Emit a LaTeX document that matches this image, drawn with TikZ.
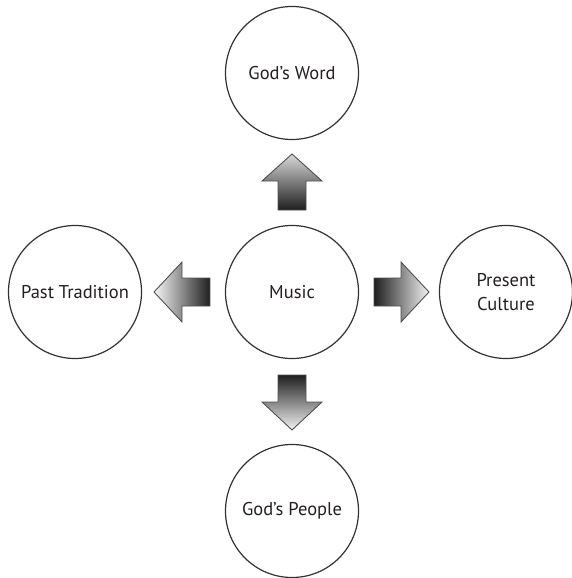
\documentclass[tikz,border=0pt]{standalone}
\usepackage{fontspec}
\setmainfont{PT Sans}
\definecolor{txt}{HTML}{231F20}
\definecolor{ring}{HTML}{333333}
\definecolor{edge}{HTML}{505050}
\begin{document}
\begin{tikzpicture}[x=1pt,y=-1pt,
  circ/.style={circle,draw=ring,line width=1.2pt,minimum size=133pt,inner sep=0pt,
    text=txt,font=\fontsize{18.5}{24}\selectfont,align=center},
  arr/.style={draw=edge,line width=0.9pt,line join=miter}]
\useasboundingbox (0,0) rectangle (571,578);
\node[circ] (music) at (292,292) {Music};
\node[circ] (word) at (292,73) {God’s Word};
\node[circ] (past) at (75,292) {Past Tradition};
\node[circ] (pres) at (506,292) {Present\\Culture};
\node[circ] (people) at (292,511) {God’s People};
% up arrow
\path[arr,top color=black!15,bottom color=black!88]
  (292,154) -- (322,181) -- (306,181) -- (306,210) -- (278,210) -- (278,181) -- (262,181) -- cycle;
% left arrow
\path[arr,left color=black!3,right color=black!88]
  (154,292) -- (182,262) -- (182,278) -- (210,278) -- (210,306) -- (182,306) -- (182,322) -- cycle;
% right arrow
\path[arr,left color=black!88,right color=black!5]
  (429,292) -- (401,262) -- (401,278) -- (374,278) -- (374,306) -- (401,306) -- (401,322) -- cycle;
% down arrow
\path[arr,top color=black!88,bottom color=black!5]
  (292,430) -- (322,402) -- (306,402) -- (306,375) -- (278,375) -- (278,402) -- (262,402) -- cycle;
\end{tikzpicture}
\end{document}
